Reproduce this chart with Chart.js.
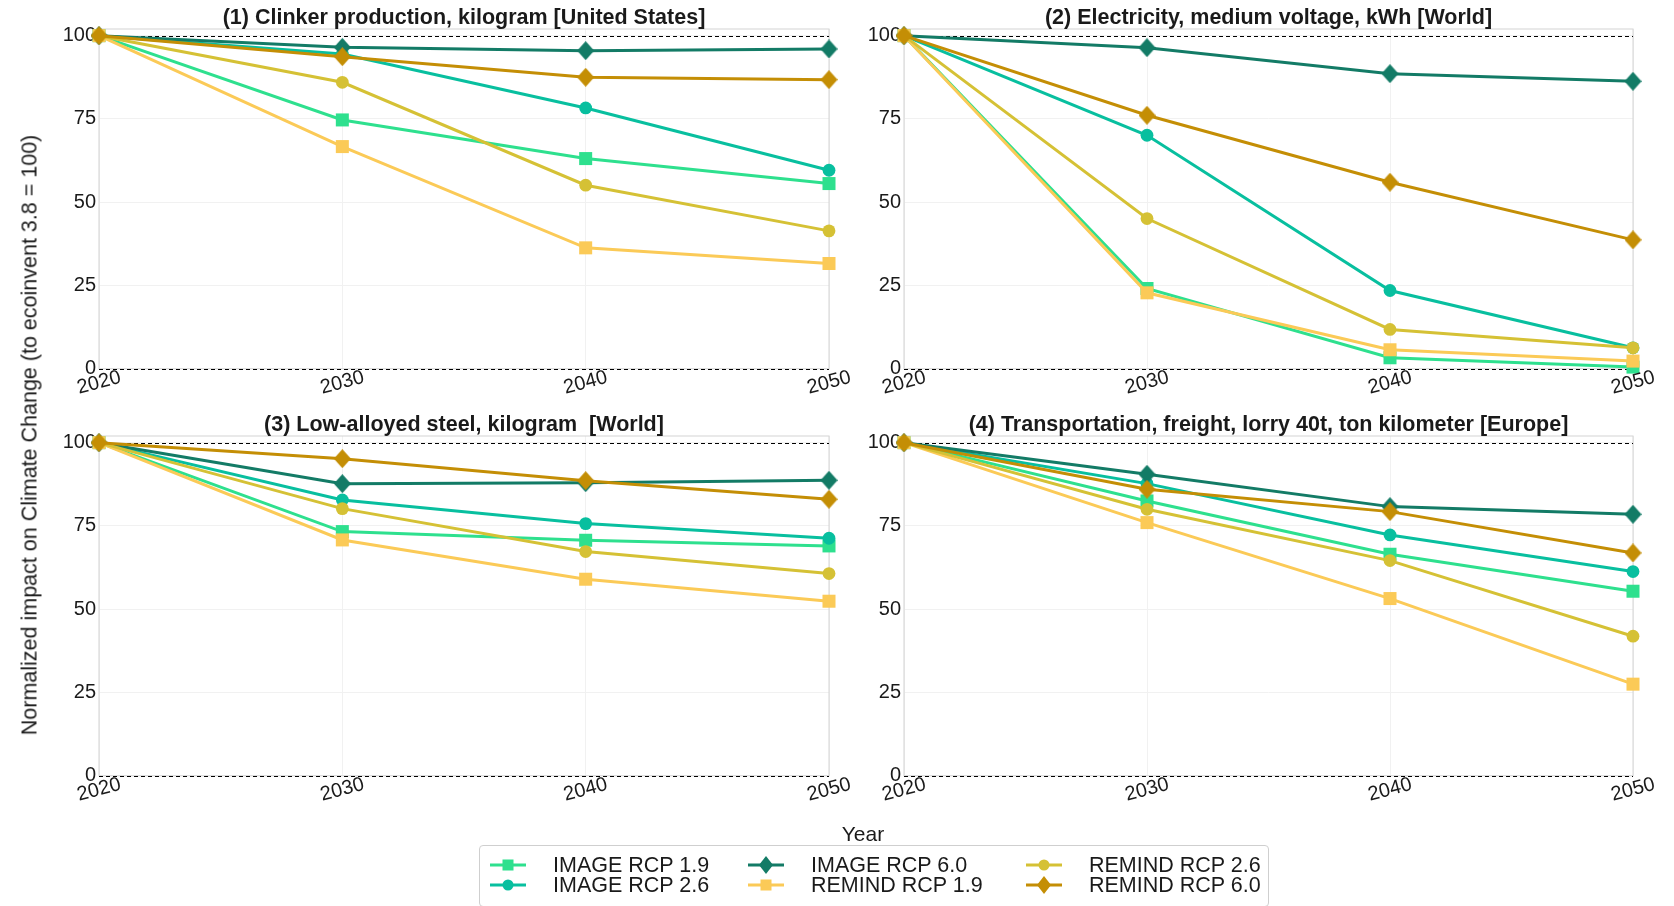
<!DOCTYPE html>
<html>
<head>
<meta charset="utf-8">
<script src="https://cdn.jsdelivr.net/npm/chart.js@4.4.1/dist/chart.umd.min.js"></script>
<style>
  body { margin: 0; background: #fff; width: 1674px; height: 906px; position: relative; overflow: hidden;
         font-family: "Liberation Sans", Arial, sans-serif; color: #1a1a1a; }
  canvas.panel { position: absolute; }
  #ytitle { position: absolute; left: 30px; top: 435px; font-size: 21.5px; white-space: nowrap;
            transform: translate(-50%, -50%) rotate(-90deg); }
  #xtitle { position: absolute; left: 863px; top: 834px; font-size: 21px; transform: translate(-50%, -50%); }
  #legend { position: absolute; left: 479px; top: 845px; width: 790px; height: 62px;
            border: 1px solid #cfcfcf; border-radius: 4px; box-sizing: border-box; }
  .item { position: absolute; height: 20px; display: flex; align-items: center; font-size: 21.5px; white-space: nowrap; }
  .item canvas { margin-right: 27px; }
</style>
</head>
<body>
<canvas id="p1" class="panel"></canvas>
<canvas id="p2" class="panel"></canvas>
<canvas id="p3" class="panel"></canvas>
<canvas id="p4" class="panel"></canvas>
<div id="ytitle">Normalized impact on Climate Change (to ecoinvent 3.8 = 100)</div>
<div id="xtitle">Year</div>
<div id="legend"></div>

<script>
const years = [2020, 2030, 2040, 2050];
const xTicks = [2020, 2030, 2040, 2050];
const yTicks = [0, 25, 50, 75, 100];
const refLines = [0, 100];

const scenarios = ['IMAGE RCP 1.9', 'IMAGE RCP 2.6', 'IMAGE RCP 6.0',
                   'REMIND RCP 1.9', 'REMIND RCP 2.6', 'REMIND RCP 6.0'];
const colors = ['#2ee08e', '#08bf9f', '#137b66', '#fbca57', '#d5c135', '#c48e05'];
const markers = ['square', 'circle', 'diamond', 'square', 'circle', 'diamond'];

const titles = [
    '(1) Clinker production, kilogram [United States]',
    '(2) Electricity, medium voltage, kWh [World]',
    '(3) Low-alloyed steel, kilogram  [World]',
    '(4) Transportation, freight, lorry 40t, ton kilometer [Europe]'
];

// one row per scenario, same order as `scenarios`
const clinker = [
    [100, 74.7, 63.1, 55.6],
    [100, 94.5, 78.3, 59.6],
    [100, 96.5, 95.5, 96.0],
    [100, 66.7, 36.3, 31.6],
    [100, 86.0, 55.1, 41.4],
    [100, 93.7, 87.5, 86.8]
];
const electricity = [
    [100, 24.1, 3.3, 0.5],
    [100, 70.1, 23.5, 6.3],
    [100, 96.4, 88.6, 86.3],
    [100, 22.8, 5.7, 2.3],
    [100, 45.1, 11.8, 6.3],
    [100, 76.1, 56.0, 38.7]
];
const steel = [
    [100, 73.3, 70.7, 69.0],
    [100, 82.8, 75.7, 71.3],
    [100, 87.7, 88.0, 88.7],
    [100, 70.8, 59.0, 52.4],
    [100, 80.2, 67.3, 60.7],
    [100, 95.2, 88.6, 83.0]
];
const lorry = [
    [100, 82.5, 66.5, 55.4],
    [100, 87.7, 72.3, 61.3],
    [100, 90.5, 80.8, 78.5],
    [100, 76.0, 53.2, 27.5],
    [100, 80.0, 64.6, 41.9],
    [100, 86.0, 79.3, 66.9]
];

function diamondImg(color, w, h) {
    const c = document.createElement('canvas');
    c.width = w; c.height = h;
    const g = c.getContext('2d');
    g.fillStyle = color;
    g.beginPath();
    g.moveTo(w / 2, 0); g.lineTo(w, h / 2); g.lineTo(w / 2, h); g.lineTo(0, h / 2);
    g.closePath();
    g.fill();
    return c;
}

function pointFor(i) {
    if (markers[i] === 'square') return { style: 'rect', r: 9.2 };
    if (markers[i] === 'circle') return { style: 'circle', r: 6.4 };
    return { style: diamondImg(colors[i], 17, 19), r: 8 };
}

const decor = {
    id: 'decor',
    beforeDatasetsDraw(chart) {
        const { ctx, chartArea: a, scales } = chart;
        ctx.save();
        ctx.strokeStyle = '#d4d4d4';
        ctx.lineWidth = 1;
        ctx.strokeRect(a.left, a.top, a.right - a.left, a.bottom - a.top);
        ctx.strokeStyle = '#000';
        ctx.setLineDash([4, 3]);
        refLines.forEach(v => {
            const y = Math.round(scales.y.getPixelForValue(v)) + 0.5;
            ctx.beginPath(); ctx.moveTo(a.left, y); ctx.lineTo(a.right, y); ctx.stroke();
        });
        ctx.restore();
    },
    afterDraw(chart, args, opts) {
        const { ctx, chartArea: a, scales } = chart;
        ctx.save();
        ctx.fillStyle = '#1a1a1a';
        ctx.font = 'bold 21.5px "Liberation Sans", Arial, sans-serif';
        ctx.textAlign = 'center';
        ctx.textBaseline = 'middle';
        ctx.fillText(opts.title, (a.left + a.right) / 2, a.top - 11);
        ctx.font = '20px "Liberation Sans", Arial, sans-serif';
        xTicks.forEach(v => {
            ctx.save();
            ctx.translate(scales.x.getPixelForValue(v), a.bottom + 14);
            ctx.rotate(-15 * Math.PI / 180);
            ctx.fillText(String(v), 0, 0);
            ctx.restore();
        });
        ctx.restore();
    }
};

function makePanel(id, title, values, area) {
    const padL = 60, padT = 40, padR = 40, padB = 50;
    const canvas = document.getElementById(id);
    const w = area.right - area.left, h = area.bottom - area.top;
    canvas.style.left = (area.left - padL) + 'px';
    canvas.style.top = (area.top - padT) + 'px';
    canvas.width = Math.round(w + padL + padR);
    canvas.height = Math.round(h + padT + padB);

    new Chart(canvas, {
        type: 'line',
        data: {
            datasets: values.map((row, i) => {
                const p = pointFor(i);
                return {
                    label: scenarios[i],
                    data: row.map((v, k) => ({ x: years[k], y: v })),
                    borderColor: colors[i],
                    backgroundColor: colors[i],
                    borderWidth: 3,
                    pointStyle: p.style,
                    pointRadius: p.r,
                    pointBorderWidth: 0,
                    pointBackgroundColor: colors[i],
                    tension: 0,
                    clip: false,
                    order: values.length - 1 - i
                };
            })
        },
        options: {
            responsive: false,
            animation: false,
            events: [],
            layout: { padding: { left: padL - 50, top: padT, right: canvas.width - w - padL, bottom: canvas.height - h - padT } },
            plugins: { legend: { display: false }, tooltip: { enabled: false }, decor: { title: title } },
            scales: {
                x: {
                    type: 'linear', min: 2020, max: 2050,
                    afterBuildTicks: s => { s.ticks = xTicks.map(v => ({ value: v })); },
                    afterFit: s => { s.height = 0; },
                    ticks: { display: false },
                    grid: { color: '#f1f1f1', drawTicks: false },
                    border: { display: false }
                },
                y: {
                    min: 0, max: 102,
                    afterBuildTicks: s => { s.ticks = yTicks.map(v => ({ value: v })); },
                    afterFit: s => { s.width = 50; },
                    ticks: { color: '#1a1a1a', font: { size: 20, family: '"Liberation Sans", Arial, sans-serif' }, padding: 3 },
                    grid: { color: '#f1f1f1', drawTicks: false },
                    border: { display: false }
                }
            }
        },
        plugins: [decor]
    });
}

const topA = 368.3 - 102 * 3.331;
const topB = 776 - 102 * 3.331;
makePanel('p1', titles[0], clinker, { left: 99, right: 829, top: topA, bottom: 368.3 });
makePanel('p2', titles[1], electricity, { left: 904, right: 1633, top: topA, bottom: 368.3 });
makePanel('p3', titles[2], steel, { left: 99, right: 829, top: topB, bottom: 776 });
makePanel('p4', titles[3], lorry, { left: 904, right: 1633, top: topB, bottom: 776 });

// shared legend, filled column by column
const legend = document.getElementById('legend');
const colX = [10, 268, 546];
const rowY = [9, 29];
scenarios.forEach((name, i) => {
    const item = document.createElement('div');
    item.className = 'item';
    item.style.left = colX[Math.floor(i / 2)] + 'px';
    item.style.top = rowY[i % 2] + 'px';
    const c = document.createElement('canvas');
    c.width = 36; c.height = 20;
    const g = c.getContext('2d');
    g.strokeStyle = colors[i]; g.lineWidth = 3;
    g.beginPath(); g.moveTo(0, 10); g.lineTo(36, 10); g.stroke();
    g.fillStyle = colors[i];
    if (markers[i] === 'square') g.fillRect(12.5, 4.5, 11, 11);
    else if (markers[i] === 'circle') { g.beginPath(); g.arc(18, 10, 5.5, 0, Math.PI * 2); g.fill(); }
    else g.drawImage(diamondImg(colors[i], 14, 18), 11, 1);
    item.appendChild(c);
    item.appendChild(document.createTextNode(name));
    legend.appendChild(item);
});
</script>
</body>
</html>
